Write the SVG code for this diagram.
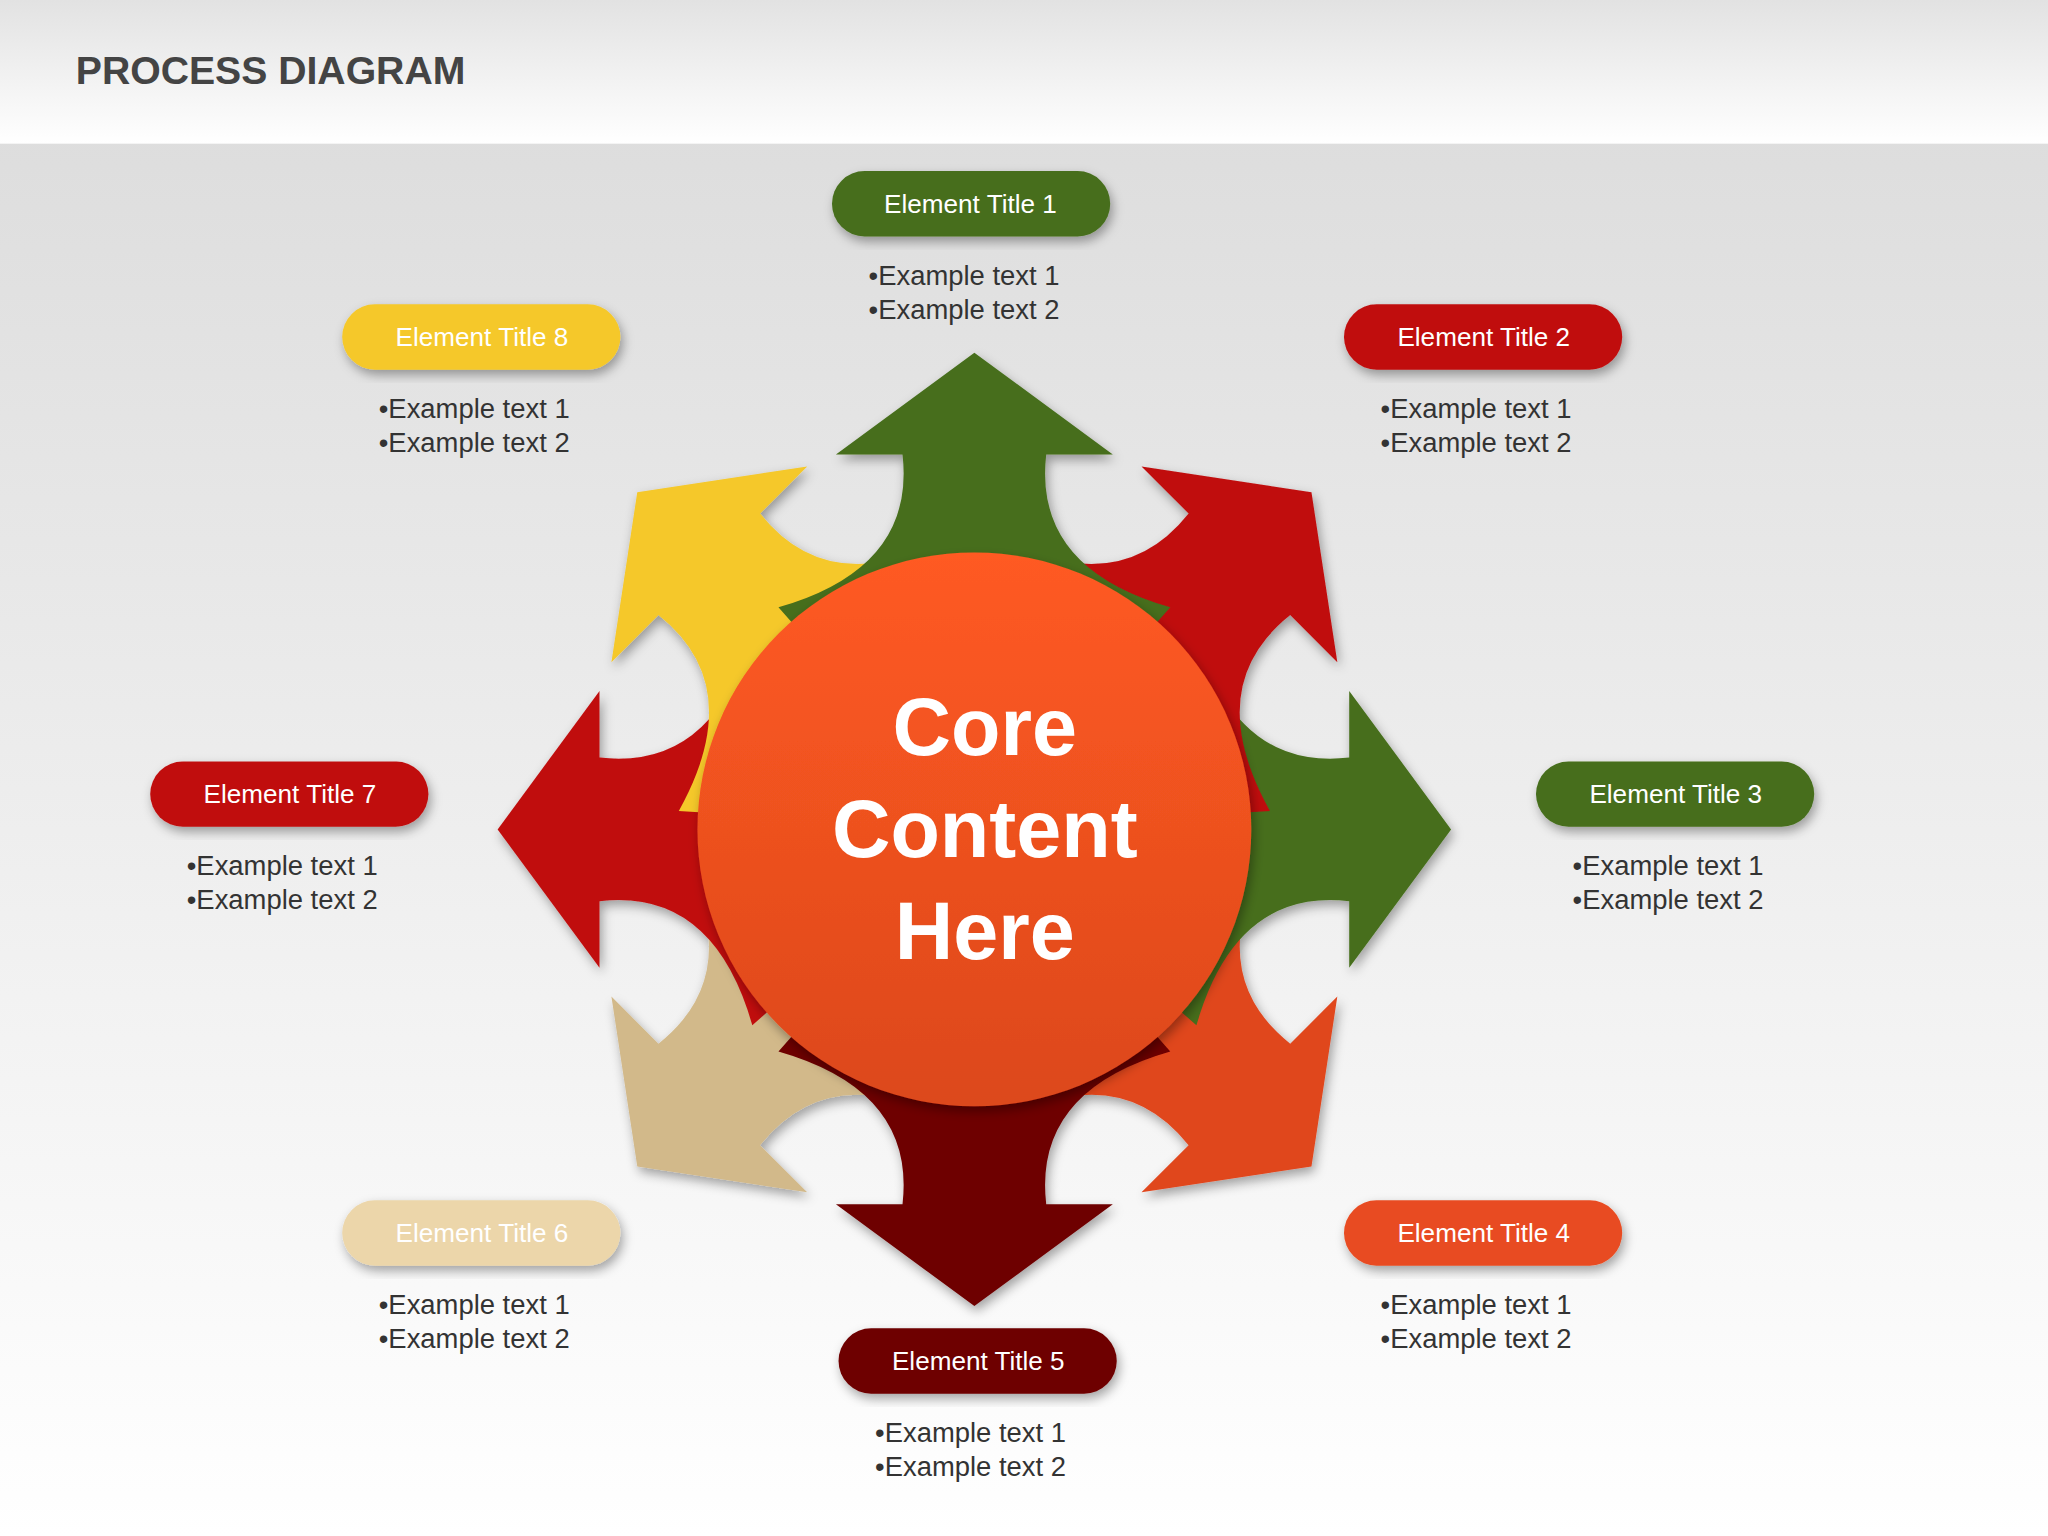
<svg xmlns="http://www.w3.org/2000/svg" width="2048" height="1536" viewBox="0 0 2048 1536">
<defs>
<linearGradient id="hdr" x1="0" y1="0" x2="0" y2="1"><stop offset="0" stop-color="#e2e2e2"/><stop offset="1" stop-color="#ffffff"/></linearGradient>
<linearGradient id="bg" x1="0" y1="0" x2="0" y2="1"><stop offset="0" stop-color="#dadada"/><stop offset="1" stop-color="#ffffff"/></linearGradient>
<linearGradient id="core" x1="0" y1="0" x2="0" y2="1"><stop offset="0" stop-color="#ff5a22"/><stop offset="1" stop-color="#dc481c"/></linearGradient>
<filter id="sh" x="-20%" y="-20%" width="140%" height="140%"><feDropShadow dx="2" dy="4" stdDeviation="4" flood-opacity="0.35"/></filter>
<path id="arr" d="M0,-365 L106,-287 L55,-287 Q45,-200 150,-170 L0,0 L-150,-170 Q-45,-200 -55,-287 L-106,-287 Z"/>
</defs>
<style>
.t{font-family:"Liberation Sans",Arial,sans-serif;font-size:20px;fill:#fff;text-anchor:middle}
.b{font-family:"Liberation Sans",Arial,sans-serif;font-size:21px;fill:#333}
</style>
<rect width="2048" height="1536" fill="url(#bg)"/>
<g transform="scale(1.30612)">
<rect width="1568" height="110" fill="url(#hdr)"/>
<text x="58" y="64" font-family="Liberation Sans,Arial,sans-serif" font-size="30" font-weight="bold" fill="#444">PROCESS DIAGRAM</text>
<g id="connectors" transform="translate(746,635)" filter="url(#sh)">
<use href="#arr" transform="rotate(135)" fill="#e0461e"/>
<use href="#arr" transform="rotate(225)" fill="#d2b98a"/>
<use href="#arr" transform="rotate(180)" fill="#6e0000"/>
<use href="#arr" transform="rotate(90)" fill="#466e1c"/>
<use href="#arr" transform="rotate(270)" fill="#c00f0f"/>
<use href="#arr" transform="rotate(45)" fill="#c00f0f"/>
<use href="#arr" transform="rotate(315)" fill="#f5c82a"/>
<use href="#arr" fill="#466e1c"/>
</g>
<g id="core-node" filter="url(#sh)">
<circle cx="746" cy="635" r="212" fill="url(#core)"/>
<text x="754" y="578" text-anchor="middle" font-family="Liberation Sans,Arial,sans-serif" font-size="62" font-weight="bold" fill="#fff">Core</text>
<text x="754" y="656" text-anchor="middle" font-family="Liberation Sans,Arial,sans-serif" font-size="62" font-weight="bold" fill="#fff">Content</text>
<text x="754" y="734" text-anchor="middle" font-family="Liberation Sans,Arial,sans-serif" font-size="62" font-weight="bold" fill="#fff">Here</text>
</g>
<g id="n1"><rect x="637" y="131" width="213" height="50" rx="25" fill="#466e1c" filter="url(#sh)"/><text class="t" x="743" y="163">Element Title 1</text><text class="b" x="665" y="218">•Example text 1</text><text class="b" x="665" y="244">•Example text 2</text></g>
<g id="n2"><rect x="1029" y="233" width="213" height="50" rx="25" fill="#c00f0f" filter="url(#sh)"/><text class="t" x="1136" y="265">Element Title 2</text><text class="b" x="1057" y="320">•Example text 1</text><text class="b" x="1057" y="346">•Example text 2</text></g>
<g id="n3"><rect x="1176" y="583" width="213" height="50" rx="25" fill="#466e1c" filter="url(#sh)"/><text class="t" x="1283" y="615">Element Title 3</text><text class="b" x="1204" y="670">•Example text 1</text><text class="b" x="1204" y="696">•Example text 2</text></g>
<g id="n4"><rect x="1029" y="919" width="213" height="50" rx="25" fill="#e84c20" filter="url(#sh)"/><text class="t" x="1136" y="951">Element Title 4</text><text class="b" x="1057" y="1006">•Example text 1</text><text class="b" x="1057" y="1032">•Example text 2</text></g>
<g id="n5"><rect x="642" y="1017" width="213" height="50" rx="25" fill="#6e0000" filter="url(#sh)"/><text class="t" x="749" y="1049">Element Title 5</text><text class="b" x="670" y="1104">•Example text 1</text><text class="b" x="670" y="1130">•Example text 2</text></g>
<g id="n6"><rect x="262" y="919" width="213" height="50" rx="25" fill="#ecd6aa" filter="url(#sh)"/><text class="t" x="369" y="951">Element Title 6</text><text class="b" x="290" y="1006">•Example text 1</text><text class="b" x="290" y="1032">•Example text 2</text></g>
<g id="n7"><rect x="115" y="583" width="213" height="50" rx="25" fill="#c00f0f" filter="url(#sh)"/><text class="t" x="222" y="615">Element Title 7</text><text class="b" x="143" y="670">•Example text 1</text><text class="b" x="143" y="696">•Example text 2</text></g>
<g id="n8"><rect x="262" y="233" width="213" height="50" rx="25" fill="#f5c82a" filter="url(#sh)"/><text class="t" x="369" y="265">Element Title 8</text><text class="b" x="290" y="320">•Example text 1</text><text class="b" x="290" y="346">•Example text 2</text></g>
</g>
</svg>
